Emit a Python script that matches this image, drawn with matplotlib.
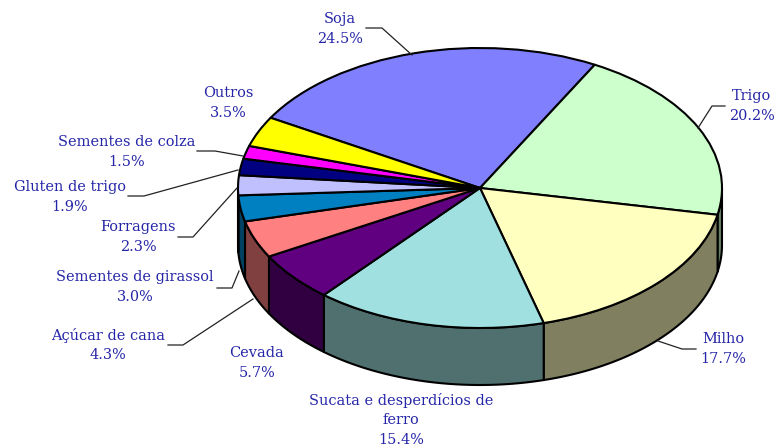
import numpy as np
import matplotlib
matplotlib.use("Agg")
import matplotlib.pyplot as plt
from matplotlib.patches import Polygon
from matplotlib.lines import Line2D

categories = ["Soja", "Trigo", "Milho", "Sucata e desperdícios de\nferro", "Cevada",
              "Açúcar de cana", "Sementes de girassol", "Forragens", "Gluten de trigo",
              "Sementes de colza", "Outros"]
values = [24.5, 20.2, 17.7, 15.4, 5.7, 4.3, 3.0, 2.3, 1.9, 1.5, 3.5]
colors = ["#8080FF", "#CCFFCC", "#FFFFC0", "#A0E0E0", "#600080", "#FF8080",
          "#0080C0", "#C0C0FF", "#000080", "#FF00FF", "#FFFF00"]
side_colors = ["#404080", "#668066", "#808060", "#507070", "#300040", "#804040",
               "#004060", "#606080", "#000040", "#800080", "#808000"]

W, H = 775, 447
CX, CY, RX, RY, DEPTH = 480, 188, 242, 140, 57
START = 149.9

label_xy = [(340, 29), (752, 106), (723, 349), (401, 420), (257, 363), (108, 345),
            (135, 287), (138, 237), (70, 197), (127, 152), (228, 103)]
leaders = {
    "Soja": [(366, 28), (382, 28), (412, 55)],
    "Trigo": [(725, 106), (712, 106), (698, 128)],
    "Milho": [(696, 349), (682, 349), (658, 341)],
    "Açúcar de cana": [(168, 345), (183, 345), (253, 299)],
    "Sementes de girassol": [(217, 288), (232, 288), (239, 271)],
    "Forragens": [(178, 237), (193, 237), (237, 188)],
    "Gluten de trigo": [(128, 196), (144, 196), (238, 170)],
    "Sementes de colza": [(197, 151), (215, 151), (243, 156)],
}

fig = plt.figure(figsize=(W / 100, H / 100), dpi=100, facecolor="white")
ax = fig.add_axes([0, 0, 1, 1])
ax.pie(values, colors=colors, startangle=START, counterclock=False, radius=1,
       wedgeprops=dict(edgecolor="black", linewidth=1.5, joinstyle="round"))
ax.set_aspect("auto")
ax.set_xlim(-CX / RX, (W - CX) / RX)
ax.set_ylim((CY - H) / RY, CY / RY)
ax.axis("off")

# Extruded side of the pie (lower half of the ellipse only)
d = DEPTH / RY
edges = START - np.cumsum([0] + values) * 3.6
for a0, a1, sc in zip(edges[:-1], edges[1:], side_colors):
    for shift in (0, -360, 360):
        h = min(a0 + shift, 0)
        l = max(a1 + shift, -180)
        if h > l:
            t = np.radians(np.linspace(h, l, 60))
            x, y = np.cos(t), np.sin(t)
            pts = np.r_[np.c_[x, y], np.c_[x[::-1], y[::-1] - d]]
            ax.add_patch(Polygon(pts, closed=True, facecolor=sc, edgecolor="black",
                                 linewidth=1.5, joinstyle="round", zorder=0.5))

def px(p):
    return p[0] / W, 1 - p[1] / H

for pts in leaders.values():
    xs, ys = zip(*[px(p) for p in pts])
    fig.add_artist(Line2D(xs, ys, transform=fig.transFigure, color="#222222", lw=0.9))

for c, v, xy in zip(categories, values, label_xy):
    fx, fy = px(xy)
    fig.text(fx, fy, f"{c}\n{v:.1f}%", ha="center", va="center", color="#2525A8",
             family="DejaVu Serif", fontsize=10.45, linespacing=1.48)

fig.savefig("out.png", dpi=100)
